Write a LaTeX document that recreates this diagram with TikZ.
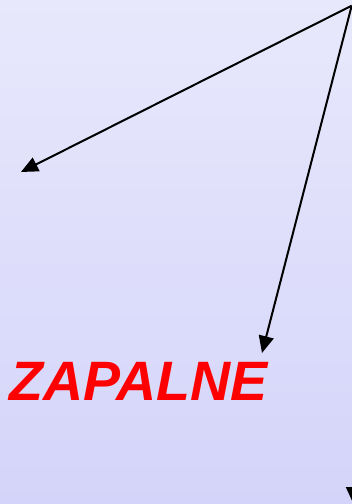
\documentclass[tikz,border=0pt]{standalone}
\usepackage{fontspec}
\setmainfont{Liberation Sans}
\usetikzlibrary{arrows.meta}
\definecolor{bgtop}{RGB}{232,232,252}
\definecolor{bgbot}{RGB}{212,212,250}
\tikzset{
  arr/.style={line width=2pt, -{Triangle[length=17pt,width=15pt]}},
  big/.style={text=red, font=\fontsize{55.5}{62}\selectfont\bfseries\itshape, inner sep=0pt}
}
\begin{document}
\begin{tikzpicture}[x=1pt,y=-1pt]
\useasboundingbox (0,0) rectangle (352,504);
\shade[top color=bgtop, bottom color=bgbot] (0,0) rectangle (352,504);
\clip (0,0) rectangle (352,504);
\coordinate (apex) at (351.7,5.7);
\coordinate (apexb) at (353.5,-10);
\coordinate (lt) at (21,172);
\coordinate (dt) at (262,353);
\coordinate (bt) at (353.5,504);
\node[big, anchor=base west] (zap) at (9.5,400.7) {ZAPALNE};
\draw[arr] (apex) -- (lt);
\draw[arr] (apex) -- (dt);
\draw[arr] (apexb) -- (bt);
\end{tikzpicture}
\end{document}
